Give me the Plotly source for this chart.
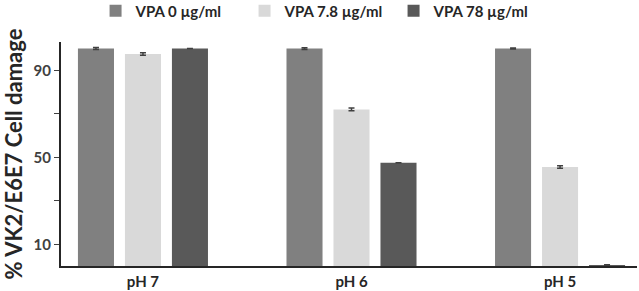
import plotly.graph_objects as go

categories = ["pH 7", "pH 6", "pH 5"]
series_names = ["VPA 0 µg/ml", "VPA 7.8 µg/ml", "VPA 78 µg/ml"]
vpa0 = [100.0, 100.0, 100.0]
vpa7_8 = [97.5, 72.0, 45.5]
vpa78 = [100.0, 47.5, 0.3]
err0 = [0.5, 0.4, 0.2]
err7_8 = [0.6, 0.6, 0.6]
err78 = [0.0, 0.0, 0.3]
colors = ["#808080", "#d9d9d9", "#595959"]
ytickvals = [10, 30, 50, 70, 90]
yticktext = ["10", "", "50", "", "90"]

fig = go.Figure()
for name, vals, errs, col in zip(series_names, [vpa0, vpa7_8, vpa78], [err0, err7_8, err78], colors):
    fig.add_trace(go.Bar(
        x=categories, y=vals, name=name,
        marker=dict(color=col, line=dict(width=0)),
        error_y=dict(type="data", array=errs, visible=True, color="#404040", thickness=1.5, width=3),
    ))

font_fam = "Lato"
fig.update_layout(
    width=639, height=291,
    margin=dict(l=61, r=2, t=42, b=25, autoexpand=False),
    paper_bgcolor="white", plot_bgcolor="white",
    barmode="group", bargap=0.324, bargroupgap=0.233,
    showlegend=True,
    legend=dict(orientation="h", x=0.06, xanchor="left", y=0.962, yanchor="middle",
                yref="container", entrywidth=104,
                font=dict(family=font_fam, size=15, color="#262626", weight="bold"),
                itemsizing="constant", traceorder="normal", bgcolor="rgba(0,0,0,0)"),
    xaxis=dict(range=[-0.393, 2.369], showline=True, linecolor="#262626", linewidth=2,
               ticks="outside", ticklen=1, tickcolor="rgba(0,0,0,0)", showgrid=False, zeroline=False,
               automargin=False,
               tickfont=dict(family=font_fam, size=15, color="#262626", weight="bold")),
    yaxis=dict(range=[0, 103], showline=True, linecolor="#262626", linewidth=2,
               ticks="outside", ticklen=5, tickwidth=1, tickcolor="#404040",
               tickvals=ytickvals, ticktext=yticktext, showgrid=False, zeroline=False,
               automargin=False,
               tickfont=dict(family=font_fam, size=15, color="#404040", weight="bold"),
               title=dict(text="% VK2/E6E7 Cell damage", standoff=6,
                          font=dict(family=font_fam, size=22, color="#262626", weight="bold"))),
)
fig.write_html("out.html", config={"displayModeBar": False},
               post_script="document.body.style.margin='0';document.body.style.overflow='hidden';")
